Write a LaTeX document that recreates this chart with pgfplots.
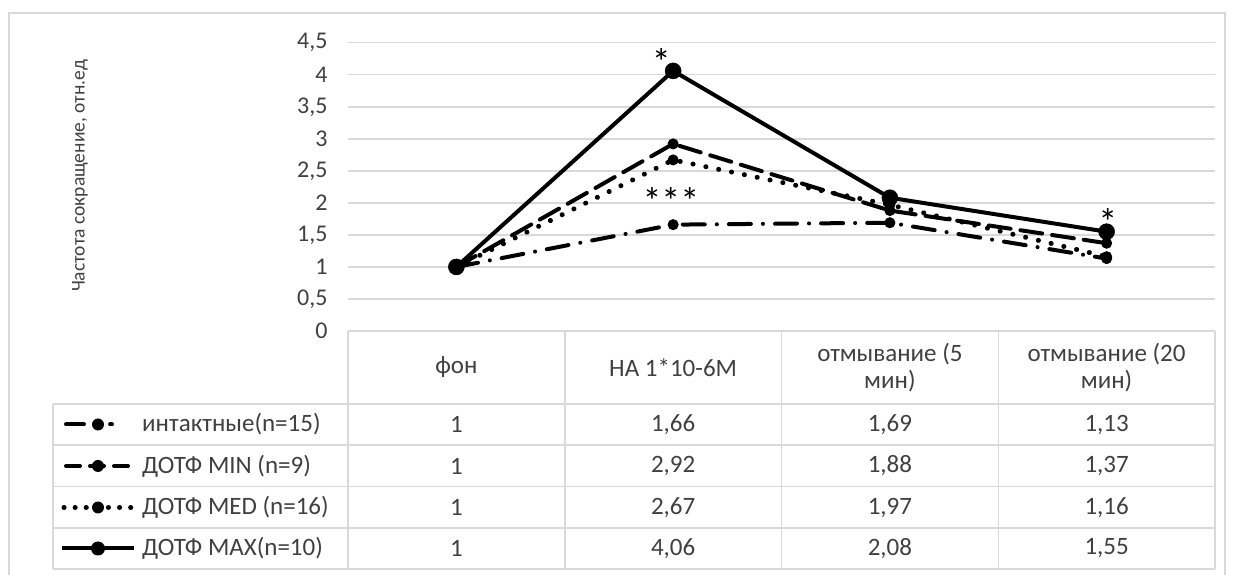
\documentclass[border=0pt]{standalone}
\usepackage{pgfplots}
\pgfplotsset{compat=1.18}
\usepackage{fontspec}
\setmainfont{Carlito}
\definecolor{gridgray}{RGB}{217,217,217}
\definecolor{txt}{RGB}{64,64,64}

\newcommand{\tabfont}{\fontsize{25}{27}\selectfont}
\newcommand{\starfont}{\fontsize{38}{40}\selectfont}

\begin{document}
\begin{tikzpicture}[x=1pt,y=1pt]
\useasboundingbox (0,0) rectangle (1234,575);
% outer chart frame
\draw[gridgray, line width=1.5pt] (9,0) -- (9,562) -- (1225,562) -- (1225,0);

\begin{axis}[
  at={(348pt,244pt)}, anchor=south west,
  scale only axis, width=867pt, height=288.3pt,
  xmin=-0.5, xmax=3.5, ymin=0, ymax=4.5,
  clip=false,
  xtick=\empty,
  ytick={0,0.5,1,1.5,2,2.5,3,3.5,4,4.5},
  ymajorgrids, grid style={gridgray, line width=1.5pt},
  axis line style={draw=none},
  major tick style={draw=none},
  yticklabel style={font=\fontsize{24}{26}\selectfont, text=txt, xshift=-17pt},
  /pgf/number format/use comma,
  /pgf/number format/fixed,
  /pgf/number format/assume math mode=true,
]
% интактные
\addplot[black, line width=4pt, line cap=round,
  dash pattern=on 22pt off 12pt on 0.1pt off 12pt,
  mark=*, mark size=5pt, mark options={solid, line width=1pt}]
  coordinates {(0,1) (1,1.66) (2,1.69) (3,1.13)};
% ДОТФ MIN
\addplot[black, line width=4pt, line cap=round,
  dash pattern=on 22pt off 10pt,
  mark=*, mark size=5pt, mark options={solid, line width=1pt}]
  coordinates {(0,1) (1,2.92) (2,1.88) (3,1.37)};
% ДОТФ MED
\addplot[black, line width=5pt, line cap=round,
  dash pattern=on 0.1pt off 13pt,
  mark=*, mark size=5pt, mark options={solid, line width=1pt}]
  coordinates {(0,1) (1,2.67) (2,1.97) (3,1.16)};
% ДОТФ MAX
\addplot[black, line width=4pt,
  mark=*, mark size=8pt, mark options={solid, line width=0.5pt}]
  coordinates {(0,1) (1,4.06) (2,2.08) (3,1.55)};

% significance marks
\node[font=\starfont, text=black, anchor=north, inner sep=0] at (axis cs:0.946,4.42) {*};
\node[font=\starfont, text=black, anchor=north, inner sep=0] at (axis cs:0.990,2.248) {***};
\node[font=\starfont, text=black, anchor=north, inner sep=0] at (axis cs:3.006,1.916) {*};
\end{axis}

% y axis title
\node[rotate=90, font=\fontsize{19.5}{23}\selectfont, text=txt] at (80,399) {Частота сокращение, отн.ед};

% data table grid
\begin{scope}[gridgray, line width=1.5pt]
\draw (348,244) -- (1215,244);
\foreach \y in {171,130,88.5,47,6} \draw (53,\y) -- (1215,\y);
\draw (53,171) -- (53,6);
\foreach \x in {348,564.75,781.5,998.25,1215} \draw (\x,244) -- (\x,6);
\end{scope}

% header row
\begin{scope}[font=\tabfont, text=txt]
\node at (456.4,207.5) {фон};
\node at (673.1,207.5) {НА 1*10-6М};
\node[align=center] at (889.9,207.5) {отмывание (5\\мин)};
\node[align=center] at (1106.6,207.5) {отмывание (20\\мин)};

% legend keys and series names
\draw[black, line width=4pt, line cap=round, dash pattern=on 18pt off 14pt on 0.1pt off 12pt] (66,150.5) -- (112,150.5);
\fill[black] (98,150.5) circle (6);
\node[anchor=west, inner sep=0] at (142,150.5) {интактные(n=15)};
\draw[black, line width=4pt, line cap=round, dash pattern=on 14pt off 10pt] (66,109) -- (132,109);
\fill[black] (98,109) circle (6);
\node[anchor=west, inner sep=0] at (142,109) {ДОТФ MIN (n=9)};
\draw[black, line width=5pt, line cap=round, dash pattern=on 0.1pt off 11pt] (64,67.5) -- (132,67.5);
\fill[black] (98,67.5) circle (6);
\node[anchor=west, inner sep=0] at (142,67.5) {ДОТФ MED (n=16)};
\draw[black, line width=4pt] (62,26.5) -- (134,26.5);
\fill[black] (98,26.5) circle (7);
\node[anchor=west, inner sep=0] at (142,26.5) {ДОТФ MAX(n=10)};

% table values
\foreach \v [count=\i from 0] in {1,{1,66},{1,69},{1,13}}
  \node at ({456.4+216.75*\i},150.5) {\v};
\foreach \v [count=\i from 0] in {1,{2,92},{1,88},{1,37}}
  \node at ({456.4+216.75*\i},109) {\v};
\foreach \v [count=\i from 0] in {1,{2,67},{1,97},{1,16}}
  \node at ({456.4+216.75*\i},67.5) {\v};
\foreach \v [count=\i from 0] in {1,{4,06},{2,08},{1,55}}
  \node at ({456.4+216.75*\i},26.5) {\v};
\end{scope}
\end{tikzpicture}
\end{document}
